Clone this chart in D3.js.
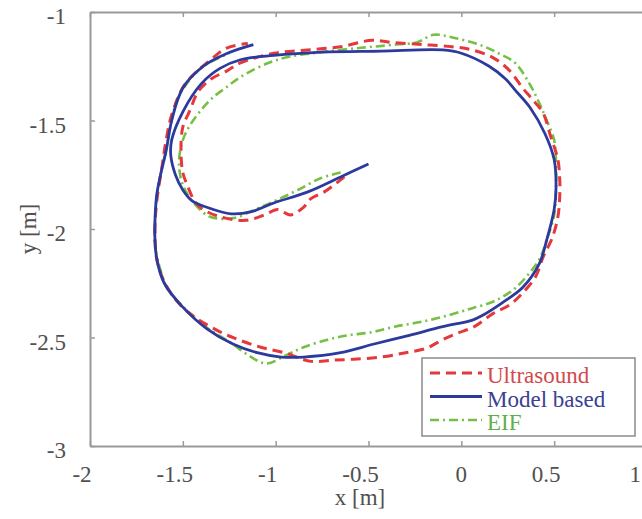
<!DOCTYPE html>
<html>
<head>
<meta charset="utf-8">
<script src="https://cdn.jsdelivr.net/npm/d3@7"></script>
<style>
  body { margin: 0; background: #fff; }
  svg { display: block; }
</style>
</head>
<body>
<div id="chart"></div>
<script>
// Chart constants
const WIDTH = 642;
const HEIGHT = 519;
const PLOT = { left: 90, right: 647, top: 12, bottom: 446 };
const FONT = "'Liberation Serif', 'Times New Roman', 'DejaVu Serif', serif";

// Data (x [m], y [m])
const xTicks = [-2, -1.5, -1, -0.5, 0, 0.5, 1];
const yTicks = [-3, -2.5, -2, -1.5, -1];
const seriesNames = ["Ultrasound", "Model based", "EIF"];

const modelBased = [
  [-0.50, -1.70], [-0.65, -1.76], [-0.83, -1.83], [-1.01, -1.88], [-1.13, -1.92],
  [-1.24, -1.93], [-1.37, -1.90], [-1.45, -1.87], [-1.50, -1.82], [-1.54, -1.75],
  [-1.565, -1.66], [-1.56, -1.59], [-1.50, -1.46], [-1.40, -1.33], [-1.30, -1.26],
  [-1.19, -1.22], [-1.01, -1.20], [-0.75, -1.185], [-0.43, -1.18], [-0.10, -1.175],
  [0.00, -1.19], [0.15, -1.25], [0.24, -1.31], [0.29, -1.36], [0.37, -1.44],
  [0.45, -1.56], [0.50, -1.68], [0.51, -1.81], [0.50, -1.91], [0.46, -2.05],
  [0.42, -2.16], [0.33, -2.27], [0.22, -2.34], [0.11, -2.40], [0.06, -2.42],
  [-0.10, -2.45], [-0.28, -2.49], [-0.47, -2.53], [-0.65, -2.57], [-0.85, -2.59],
  [-0.97, -2.59], [-1.10, -2.57], [-1.23, -2.53], [-1.37, -2.46], [-1.50, -2.36],
  [-1.60, -2.25], [-1.64, -2.14], [-1.65, -2.05], [-1.65, -1.96], [-1.64, -1.84],
  [-1.62, -1.75], [-1.59, -1.64], [-1.56, -1.50], [-1.50, -1.35], [-1.39, -1.25],
  [-1.26, -1.19], [-1.12, -1.15]
];

const ultrasound = [
  [-0.63, -1.76], [-0.74, -1.83], [-0.81, -1.86], [-0.85, -1.90], [-0.92, -1.935],
  [-0.99, -1.91], [-1.06, -1.935], [-1.16, -1.96], [-1.27, -1.95], [-1.37, -1.92],
  [-1.43, -1.88], [-1.475, -1.80], [-1.50, -1.74], [-1.51, -1.64], [-1.50, -1.53],
  [-1.46, -1.45], [-1.42, -1.37], [-1.35, -1.31], [-1.26, -1.27], [-1.19, -1.235],
  [-1.01, -1.19], [-0.83, -1.175], [-0.65, -1.16], [-0.48, -1.13], [-0.38, -1.14],
  [-0.21, -1.15], [-0.05, -1.16], [0.06, -1.175], [0.17, -1.21], [0.26, -1.27],
  [0.33, -1.35], [0.39, -1.41], [0.44, -1.465], [0.48, -1.57], [0.52, -1.68],
  [0.53, -1.77], [0.53, -1.85], [0.52, -1.945], [0.49, -2.04], [0.44, -2.13],
  [0.40, -2.22], [0.33, -2.295], [0.26, -2.35], [0.17, -2.39], [0.07, -2.45],
  [-0.02, -2.48], [-0.10, -2.51], [-0.19, -2.55], [-0.30, -2.57], [-0.43, -2.59],
  [-0.58, -2.60], [-0.70, -2.605], [-0.81, -2.61], [-0.955, -2.57], [-1.08, -2.545],
  [-1.20, -2.51], [-1.32, -2.465], [-1.49, -2.37], [-1.59, -2.26], [-1.64, -2.14],
  [-1.65, -2.00], [-1.64, -1.87], [-1.61, -1.70], [-1.59, -1.59], [-1.56, -1.475],
  [-1.49, -1.335], [-1.35, -1.22], [-1.26, -1.165], [-1.15, -1.145]
];

const eif = [
  [-0.65, -1.74], [-0.755, -1.765], [-0.88, -1.82], [-0.99, -1.865], [-1.11, -1.91],
  [-1.23, -1.95], [-1.35, -1.945], [-1.42, -1.90], [-1.475, -1.84], [-1.51, -1.77],
  [-1.52, -1.68], [-1.50, -1.59], [-1.46, -1.52], [-1.40, -1.45], [-1.34, -1.395],
  [-1.27, -1.35], [-1.19, -1.30], [-1.04, -1.235], [-0.92, -1.205], [-0.755, -1.185],
  [-0.54, -1.165], [-0.35, -1.15], [-0.24, -1.14], [-0.15, -1.105], [-0.035, -1.12],
  [0.095, -1.15], [0.20, -1.19], [0.29, -1.235], [0.37, -1.335], [0.42, -1.42],
  [0.46, -1.50], [0.50, -1.59], [0.51, -1.705], [0.51, -1.82], [0.50, -1.935],
  [0.46, -2.05], [0.42, -2.14], [0.36, -2.21], [0.28, -2.28], [0.17, -2.335],
  [0.06, -2.365], [0.00, -2.38], [-0.10, -2.405], [-0.23, -2.43], [-0.36, -2.45],
  [-0.48, -2.475], [-0.61, -2.49], [-0.72, -2.51], [-0.85, -2.545], [-0.94, -2.58],
  [-1.05, -2.62], [-1.15, -2.58], [-1.24, -2.525], [-1.37, -2.455], [-1.49, -2.365],
  [-1.58, -2.28], [-1.62, -2.19], [-1.65, -2.075], [-1.65, -1.96], [-1.64, -1.845],
  [-1.62, -1.75], [-1.59, -1.635], [-1.565, -1.52], [-1.53, -1.405], [-1.46, -1.31],
  [-1.38, -1.245], [-1.25, -1.19]
];

const colors = ["#e5383b", "#2b3a9c", "#76c043"];
const textColors = ["#d24a4a", "#3c3f92", "#5fb04d"];

const svg = d3.select("#chart")
  .append("svg")
  .attr("width", WIDTH)
  .attr("height", HEIGHT)
  .attr("font-family", FONT);

const x = d3.scaleLinear().domain([-2, 1]).range([PLOT.left, PLOT.right]);
const y = d3.scaleLinear().domain([-3, -1]).range([PLOT.bottom, PLOT.top]);

// series lines
const line = d3.line()
  .x((d) => x(d[0]))
  .y((d) => y(d[1]))
  .curve(d3.curveCatmullRom);

const plotG = svg.append("g");

plotG.append("path")
  .datum(eif)
  .attr("d", line)
  .attr("fill", "none")
  .attr("stroke", colors[2])
  .attr("stroke-width", 2.6)
  .attr("stroke-dasharray", "9,4,2,4");

plotG.append("path")
  .datum(ultrasound)
  .attr("d", line)
  .attr("fill", "none")
  .attr("stroke", colors[0])
  .attr("stroke-width", 3)
  .attr("stroke-dasharray", "10,6");

plotG.append("path")
  .datum(modelBased)
  .attr("d", line)
  .attr("fill", "none")
  .attr("stroke", colors[1])
  .attr("stroke-width", 2.8);

// axes box
const axisColor = "#9a9a9a";
const fmt = (d) => String(d);

function styleAxis(g) {
  g.select(".domain").attr("stroke", axisColor).attr("stroke-width", 2);
  g.selectAll(".tick line").attr("stroke", axisColor).attr("stroke-width", 1.5);
  g.selectAll(".tick text").remove();
}

svg.append("g")
  .attr("transform", `translate(0, ${PLOT.bottom})`)
  .call(d3.axisBottom(x).tickValues(xTicks).tickSizeInner(-5).tickSizeOuter(0))
  .call(styleAxis);

svg.append("g")
  .attr("transform", `translate(0, ${PLOT.top})`)
  .call(d3.axisTop(x).tickValues(xTicks).tickSizeInner(-5).tickSizeOuter(0))
  .call(styleAxis);

svg.append("g")
  .attr("transform", `translate(${PLOT.left}, 0)`)
  .call(d3.axisLeft(y).tickValues(yTicks).tickSizeInner(-5).tickSizeOuter(0))
  .call(styleAxis);

svg.append("g")
  .attr("transform", `translate(${PLOT.right}, 0)`)
  .call(d3.axisRight(y).tickValues(yTicks).tickSizeInner(-5).tickSizeOuter(0))
  .call(styleAxis);

// tick labels
const labelColor = "#505050";
svg.append("g")
  .selectAll("text")
  .data(xTicks)
  .join("text")
  .attr("x", (d) => (d === 1 ? 641 : x(d) - (d === 0 ? 0 : 8)))
  .attr("y", PLOT.bottom + 36)
  .attr("text-anchor", (d) => (d === 1 ? "end" : "middle"))
  .attr("font-size", 23)
  .attr("fill", labelColor)
  .text(fmt);

svg.append("g")
  .selectAll("text")
  .data(yTicks)
  .join("text")
  .attr("x", PLOT.left - 24)
  .attr("y", (d) => y(d) + 12)
  .attr("text-anchor", "end")
  .attr("font-size", 23)
  .attr("fill", labelColor)
  .text(fmt);

// axis titles
svg.append("text")
  .attr("x", 360)
  .attr("y", 505)
  .attr("text-anchor", "middle")
  .attr("font-size", 23)
  .attr("fill", labelColor)
  .text("x [m]");

svg.append("text")
  .attr("transform", "translate(36, 229) rotate(-90)")
  .attr("text-anchor", "middle")
  .attr("font-size", 23)
  .attr("fill", labelColor)
  .text("y [m]");

// legend
const legend = svg.append("g");
legend.append("rect")
  .attr("x", 422)
  .attr("y", 358)
  .attr("width", 213)
  .attr("height", 78)
  .attr("fill", "#fff")
  .attr("stroke", "#8a8a8a")
  .attr("stroke-width", 1.5);

const dashes = ["10,6", null, "9,4,2,4"];
const widths = [3, 2.8, 2.6];
const rows = legend.selectAll("g")
  .data(seriesNames)
  .join("g")
  .attr("transform", (d, i) => `translate(0, ${373 + i * 23.5})`);

rows.append("line")
  .attr("x1", 430)
  .attr("x2", 482)
  .attr("stroke", (d, i) => colors[i])
  .attr("stroke-width", (d, i) => widths[i])
  .attr("stroke-dasharray", (d, i) => dashes[i]);

rows.append("text")
  .attr("x", 487)
  .attr("y", 10)
  .attr("font-size", 23)
  .attr("fill", (d, i) => textColors[i])
  .text((d) => d);
</script>
</body>
</html>
